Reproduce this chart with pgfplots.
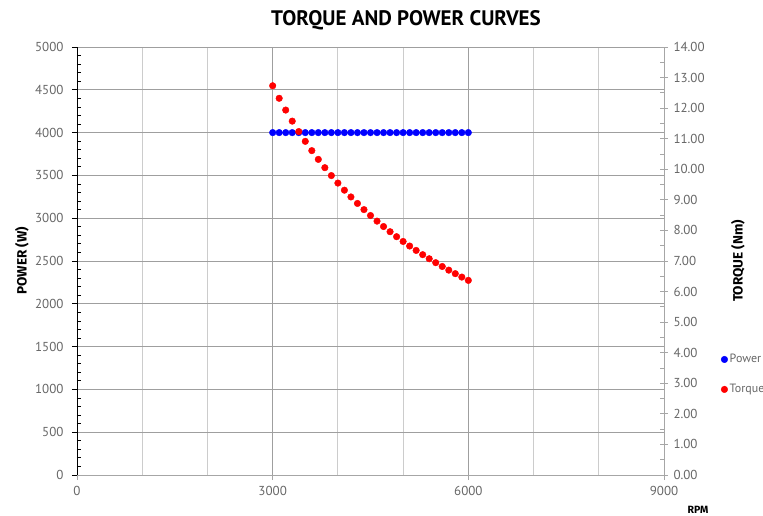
\documentclass[border=0pt]{standalone}
\usepackage{pgfplots}
\pgfplotsset{compat=1.18}
\usepackage{pgfplotstable}
\usepackage{fontspec}
\setmainfont{PT Sans}
\newfontfamily\labelfont{Fira Sans}
\definecolor{tickgray}{HTML}{666666}

\pgfplotstableread{
rpm power
3000 4000
3100 4000
3200 4000
3300 4000
3400 4000
3500 4000
3600 4000
3700 4000
3800 4000
3900 4000
4000 4000
4100 4000
4200 4000
4300 4000
4400 4000
4500 4000
4600 4000
4700 4000
4800 4000
4900 4000
5000 4000
5100 4000
5200 4000
5300 4000
5400 4000
5500 4000
5600 4000
5700 4000
5800 4000
5900 4000
6000 4000
}\powertab

\pgfplotstableread{
rpm torque
3000 12.732
3100 12.322
3200 11.937
3300 11.575
3400 11.234
3500 10.914
3600 10.610
3700 10.324
3800 10.052
3900 9.794
4000 9.549
4100 9.316
4200 9.095
4300 8.883
4400 8.681
4500 8.488
4600 8.304
4700 8.127
4800 7.958
4900 7.795
5000 7.639
5100 7.490
5200 7.346
5300 7.207
5400 7.074
5500 6.945
5600 6.821
5700 6.701
5800 6.586
5900 6.474
6000 6.366
}\torquetab

\begin{document}
\begin{tikzpicture}
\useasboundingbox (-77pt,-40pt) rectangle (686pt,475pt);
\begin{axis}[
  at={(0,0)}, anchor=south west,
  scale only axis, width=587pt, height=428pt,
  xmin=0, xmax=9000, ymin=0, ymax=5000,
  axis x line*=bottom, axis y line*=left,
  x axis line style={gray!70, line width=0.8pt, -},
  y axis line style={black, line width=0.8pt, -},
  xtick={0,3000,6000,9000},
  minor xtick={1000,2000,4000,5000,7000,8000},
  ytick distance=500, minor y tick num=4,
  xmajorgrids, xminorgrids, ymajorgrids,
  major grid style={gray!75, line width=0.8pt},
  minor grid style={gray!40, line width=0.8pt},
  tick align=outside,
  major tick length=5pt, minor tick length=4pt,
  x tick style={gray!70, line width=0.8pt},
  y tick style={black, line width=0.8pt},
  minor y tick style={xshift=4pt},
  minor x tick style={draw=none},
  scaled ticks=false,
  /pgf/number format/1000 sep={},
  /pgf/number format/assume math mode=true,
  tick label style={text=tickgray, font=\fontsize{13}{15}\selectfont},
  yticklabel style={xshift=-5pt},
  xticklabel style={yshift=-3pt},
  title={\textbf{TORQUE AND POWER CURVES}},
  title style={at={(axis description cs:0.5605,1.049)}, anchor=center, font=\fontsize{21}{23}\selectfont},
  ylabel={\textbf{POWER (W)}},
  ylabel style={at={(axis description cs:-0.0937,0.5)}, anchor=center, font=\labelfont\fontsize{13.5}{15}\selectfont},
  xlabel={\textbf{RPM}},
  xlabel style={at={(axis description cs:1.058,-0.082)}, anchor=center, font=\labelfont\fontsize{10.5}{12}\selectfont},
  clip=false,
]
\addplot[only marks, mark=*, mark size=3.3pt, color=blue, mark options={draw=blue, fill=blue}] table[x=rpm, y=power] {\powertab};
\end{axis}
\begin{axis}[
  at={(0,0)}, anchor=south west,
  scale only axis, width=587pt, height=428pt,
  xmin=0, xmax=9000, ymin=0, ymax=14,
  axis x line=none, axis y line*=right,
  y axis line style={gray!70, line width=0.8pt, -},
  ytick distance=1, minor y tick num=1,
  tick align=center,
  major tick length=8pt, minor tick length=4pt,
  y tick style={gray!70, line width=0.8pt},
  minor y tick style={xshift=-2pt},
  /pgf/number format/.cd, fixed, fixed zerofill, precision=2, assume math mode=true,
  /pgfplots/.cd,
  tick label style={text=tickgray, font=\fontsize{13}{15}\selectfont},
  yticklabel style={xshift=2pt},
  ylabel={\textbf{TORQUE (Nm)}},
  ylabel style={at={(axis description cs:1.126,0.5)}, anchor=center, font=\labelfont\fontsize{13.5}{15}\selectfont},
  legend style={at={(axis description cs:1.097,0.235)}, anchor=west, draw=none, fill=none,
    font=\fontsize{12}{14}\selectfont, text=tickgray, row sep=16pt, inner sep=0pt},
  legend cell align=left,
  legend image code/.code={\draw[#1] plot coordinates {(0pt,0pt)};},
  clip=false,
]
\addlegendimage{only marks, mark=*, mark size=3.3pt, blue, mark options={draw=blue, fill=blue}}
\addlegendentry{Power}
\addplot[only marks, mark=*, mark size=3.3pt, color=red, mark options={draw=red, fill=red}] table[x=rpm, y=torque] {\torquetab};
\addlegendentry{Torque}
\end{axis}
\end{tikzpicture}
\end{document}
